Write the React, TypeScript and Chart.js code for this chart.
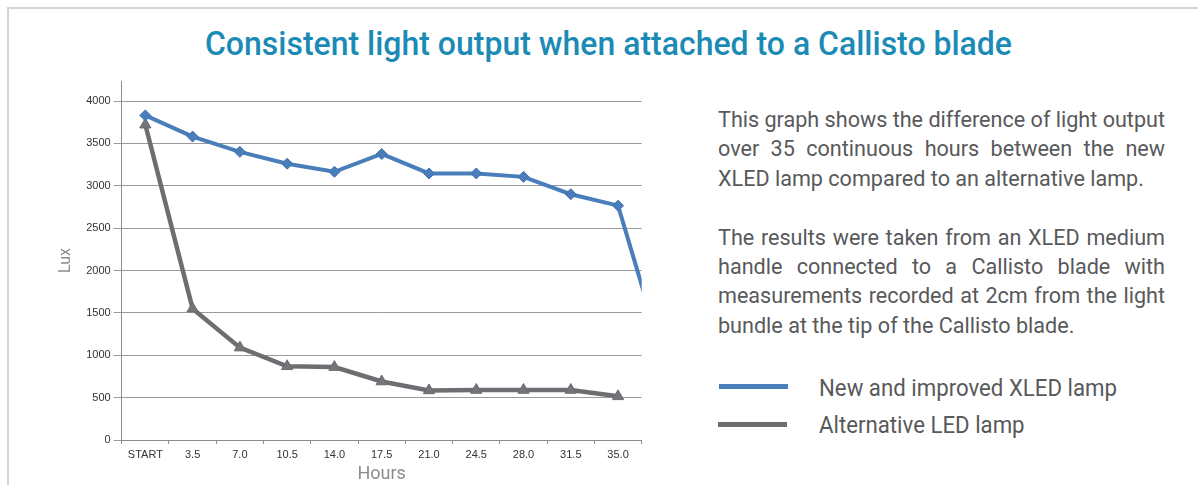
import React, { useEffect, useRef, useMemo } from 'react';
import { Chart, registerables } from 'chart.js';

Chart.register(...registerables);

// ---- data ----
const hours = ['START', '3.5', '7.0', '10.5', '14.0', '17.5', '21.0', '24.5', '28.0', '31.5', '35.0', '38.5'];
const xledLux = [3830, 3580, 3400, 3260, 3165, 3375, 3145, 3145, 3105, 2900, 2765, 890];
const altLux = [3720, 1550, 1090, 870, 860, 690, 585, 590, 590, 590, 515];
const yTickValues = [0, 500, 1000, 1500, 2000, 2500, 3000, 3500, 4000];
const lastVisibleHour = '35.0';
const yAxisMax = 4236;

const seriesNames = ['New and improved XLED lamp', 'Alternative LED lamp'];
const titleText = 'Consistent light output when attached to a Callisto blade';
const bodyLines: [string, boolean][] = [
  ['This graph shows the difference of light output', true],
  ['over 35 continuous hours between the new', true],
  ['XLED lamp compared to an alternative lamp.', false],
  ['', false],
  ['The results were taken from an XLED medium', true],
  ['handle connected to a Callisto blade with', true],
  ['measurements recorded at 2cm from the light', true],
  ['bundle at the tip of the Callisto blade.', false],
];

const BLUE = '#4a7ebb';
const GRAY = '#6d6e71';
const TEXT = '#58595b';
const TEAL = '#1b8bb5';

function measure(text: string, font: string): number {
  const c = document.createElement('canvas').getContext('2d')!;
  c.font = font;
  return c.measureText(text).width;
}

export default function App() {
  const canvasRef = useRef<HTMLCanvasElement | null>(null);

  const scales = useMemo(() => {
    const kTitle = 807 / measure(titleText, '500 34px Roboto');
    const kBody = 447 / measure(bodyLines[0][0], '22px Roboto');
    const kLeg = 298 / measure(seriesNames[0], '24px Roboto');
    return { kTitle, kBody, kLeg };
  }, []);

  useEffect(() => {
    if (!canvasRef.current) return;
    const tickFont = { family: "'Liberation Sans', Arial, sans-serif", size: 11 };
    const chart = new Chart(canvasRef.current, {
      type: 'line',
      data: {
        labels: hours,
        datasets: [
          {
            label: seriesNames[0],
            data: xledLux,
            borderColor: BLUE,
            backgroundColor: BLUE,
            borderWidth: 4,
            pointStyle: 'rectRot',
            pointRadius: 5.5,
            pointBorderWidth: 1,
            pointBorderColor: '#3f70ad',
            pointBackgroundColor: BLUE,
            tension: 0,
            clip: 0,
          },
          {
            label: seriesNames[1],
            data: altLux,
            borderColor: GRAY,
            backgroundColor: '#747579',
            borderWidth: 4.5,
            pointStyle: 'triangle',
            pointRadius: 6.5,
            pointBorderWidth: 1,
            pointBorderColor: '#6a6b6e',
            pointBackgroundColor: '#747579',
            tension: 0,
            clip: 0,
          },
        ],
      },
      options: {
        animation: false,
        responsive: false,
        maintainAspectRatio: false,
        layout: { padding: { top: 81, right: 18.3, left: 0, bottom: 0 } },
        plugins: {
          legend: { display: false },
          tooltip: { enabled: false },
        },
        scales: {
          x: {
            type: 'category',
            offset: true,
            afterDataLimits: (s: any) => {
              s.max = hours.indexOf(lastVisibleHour);
            },
            grid: { drawOnChartArea: false, tickLength: 4, color: '#8c8c8c', offset: true },
            border: { color: '#8c8c8c' },
            ticks: { font: tickFont, color: '#333333', padding: 4, maxRotation: 0, autoSkip: false },
            title: {
              display: true,
              text: 'Hours',
              color: '#8c8c8c',
              font: { family: 'Roboto', size: 18 },
              padding: { top: 0, bottom: 1 },
            },
            afterFit: (s: any) => {
              s.height = 46;
            },
          },
          y: {
            min: 0,
            max: yAxisMax,
            afterBuildTicks: (s: any) => {
              s.ticks = yTickValues.map((v) => ({ value: v }));
            },
            grid: { color: '#9a9a9a', tickLength: 8 },
            border: { color: '#8c8c8c' },
            ticks: { font: tickFont, color: '#333333', padding: 3, callback: (v: any) => String(v) },
            title: {
              display: true,
              text: 'Lux',
              color: '#8c8c8c',
              font: { family: 'Roboto', size: 16 },
              padding: { top: 56, bottom: 0 },
            },
            afterFit: (s: any) => {
              s.width = 121.7;
            },
          },
        },
      } as any,
    });
    return () => chart.destroy();
  }, []);

  const { kTitle, kBody, kLeg } = scales;
  const bodyLH = 29.4;

  return (
    <div style={{ position: 'fixed', left: 0, top: 0, width: 1198, height: 486, background: '#fff', overflow: 'hidden' }}>
      <div
        style={{
          position: 'absolute',
          left: 7,
          top: 7,
          width: 1191,
          height: 478,
          borderTop: '2px solid #d4d4d4',
          borderLeft: '2px solid #d4d4d4',
          boxSizing: 'border-box',
        }}
      />
      <div
        style={{
          position: 'absolute',
          left: 0,
          top: 23.4,
          width: 1217,
          textAlign: 'center',
          fontFamily: 'Roboto, sans-serif',
          fontWeight: 500,
          fontSize: 34,
          lineHeight: '40px',
          color: TEAL,
          whiteSpace: 'nowrap',
          transform: `scaleX(${kTitle})`,
        }}
      >
        {titleText}
      </div>
      <canvas ref={canvasRef} width={660} height={486} style={{ position: 'absolute', left: 0, top: 0 }} />
      <div style={{ position: 'absolute', left: 718, top: 105.1, transformOrigin: '0 0', transform: `scaleX(${kBody})` }}>
        {bodyLines.map(([t, j], i) => (
          <div
            key={i}
            style={{
              width: 447 / kBody,
              height: bodyLH,
              fontFamily: 'Roboto, sans-serif',
              fontSize: 22,
              lineHeight: `${bodyLH}px`,
              color: TEXT,
              whiteSpace: 'nowrap',
              textAlign: j ? 'justify' : 'left',
              textAlignLast: j ? 'justify' : 'left',
            } as any}
          >
            {t}
          </div>
        ))}
      </div>
      <div style={{ position: 'absolute', left: 719, top: 383.5, width: 69, height: 5, background: BLUE }} />
      <div style={{ position: 'absolute', left: 718, top: 421.5, width: 69, height: 5, background: GRAY }} />
      <div style={{ position: 'absolute', left: 819, top: 370.3, transformOrigin: '0 0', transform: `scaleX(${kLeg})` }}>
        {seriesNames.map((n, i) => (
          <div
            key={i}
            style={{
              fontFamily: 'Roboto, sans-serif',
              fontSize: 24,
              lineHeight: '36.3px',
              color: TEXT,
              whiteSpace: 'nowrap',
            }}
          >
            {n}
          </div>
        ))}
      </div>
    </div>
  );
}
